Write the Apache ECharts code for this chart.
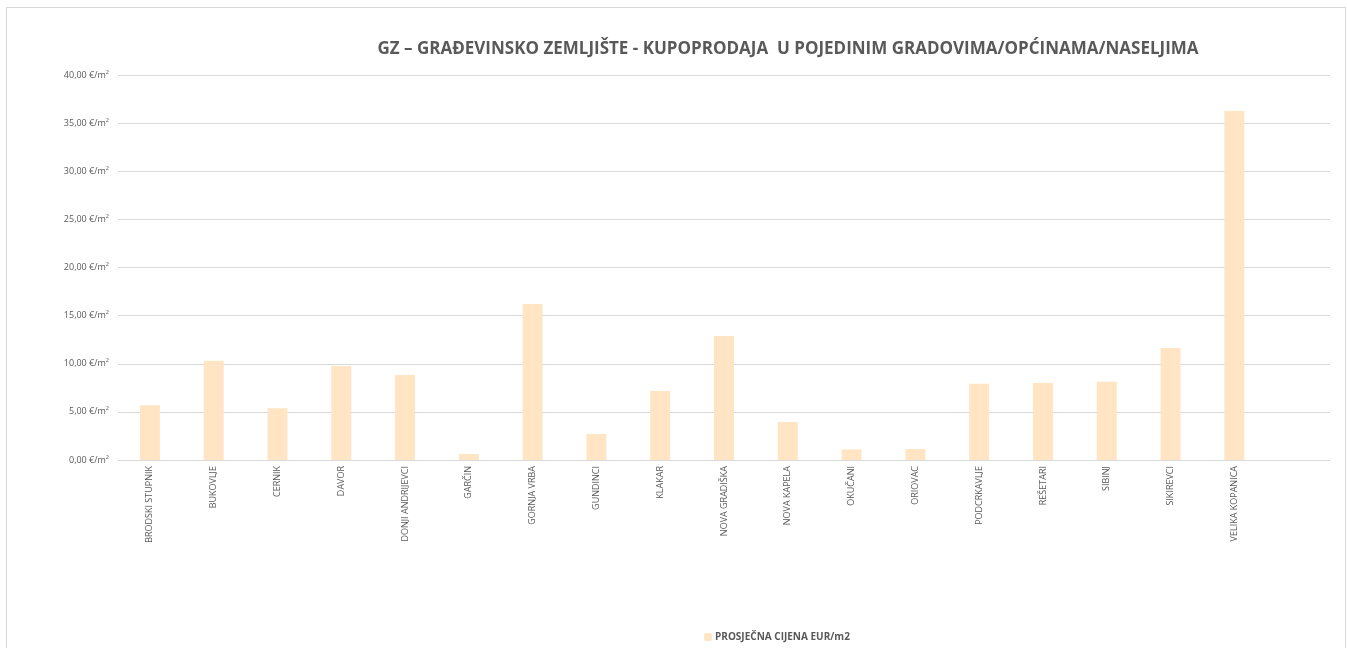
<!DOCTYPE html>
<html>
<head>
<meta charset="utf-8">
<script src="https://cdn.jsdelivr.net/npm/echarts@6/dist/echarts.min.js"></script>
<style>
  html, body { margin: 0; padding: 0; background: #fff; }
  #frame { position: absolute; left: 6px; top: 7px; width: 1340px; height: 650px; border: 1px solid #d9d9d9; box-sizing: border-box; }
  #chart { position: absolute; left: 0; top: 0; width: 1347px; height: 648px; }
</style>
</head>
<body>
<div id="frame"></div>
<div id="chart"></div>
<script>
// nazivi mjesta (zadnji prazan slot kao u originalu)
var categories = [
  "BRODSKI STUPNIK", "BUKOVLJE", "CERNIK", "DAVOR", "DONJI ANDRIJEVCI",
  "GARČIN", "GORNJA VRBA", "GUNDINCI", "KLAKAR", "NOVA GRADIŠKA",
  "NOVA KAPELA", "OKUČANI", "ORIOVAC", "PODCRKAVLJE", "REŠETARI",
  "SIBINJ", "SIKIREVCI", "VELIKA KOPANICA", ""
];
// prosječna cijena EUR/m2
var prices = [5.7, 10.3, 5.37, 9.77, 8.83, 0.62, 16.2, 2.7, 7.17, 12.88,
              3.95, 1.1, 1.14, 7.93, 8.0, 8.13, 11.63, 36.25];
var yTicks = [0, 5, 10, 15, 20, 25, 30, 35, 40];

var chart = echarts.init(document.getElementById("chart"));

var option = {
  animation: false,
  title: {
    text: "GZ – GRAĐEVINSKO ZEMLJIŠTE - KUPOPRODAJA  U POJEDINIM GRADOVIMA/OPĆINAMA/NASELJIMA",
    left: 783,
    top: 36,
    textAlign: "center",
    textStyle: { fontFamily: "Open Sans", fontSize: 17, fontWeight: "bold", color: "#595959" }
  },
  legend: {
    data: ["PROSJEČNA CIJENA EUR/m2"],
    left: 699,
    top: 627,
    itemWidth: 8,
    itemHeight: 8,
    itemGap: 4,
    textStyle: { fontFamily: "Open Sans", fontSize: 10, fontWeight: "bold", color: "#595959", padding: [0, 0, 0, -2] }
  },
  grid: { left: 118, right: 17, top: 75, bottom: 188, containLabel: false },
  xAxis: {
    type: "category",
    data: categories,
    axisLine: { lineStyle: { color: "#d9d9d9" } },
    axisTick: { show: false },
    axisLabel: {
      interval: 0,
      rotate: 90,
      margin: 6,
      fontFamily: "Open Sans",
      fontSize: 9,
      color: "#595959"
    }
  },
  yAxis: {
    type: "value",
    min: yTicks[0],
    max: yTicks[yTicks.length - 1],
    interval: 5,
    axisLine: { show: false },
    axisTick: { show: false },
    splitLine: { lineStyle: { color: "#d9d9d9" } },
    axisLabel: {
      margin: 9,
      fontFamily: "Open Sans",
      fontSize: 9,
      color: "#595959",
      formatter: function (v) { return v.toFixed(2).replace(".", ",") + " €/m²"; }
    }
  },
  series: [
    {
      name: "PROSJEČNA CIJENA EUR/m2",
      type: "bar",
      data: prices,
      barWidth: 20,
      itemStyle: { color: "#ffe5c3" }
    }
  ]
};

chart.setOption(option);
</script>
</body>
</html>
